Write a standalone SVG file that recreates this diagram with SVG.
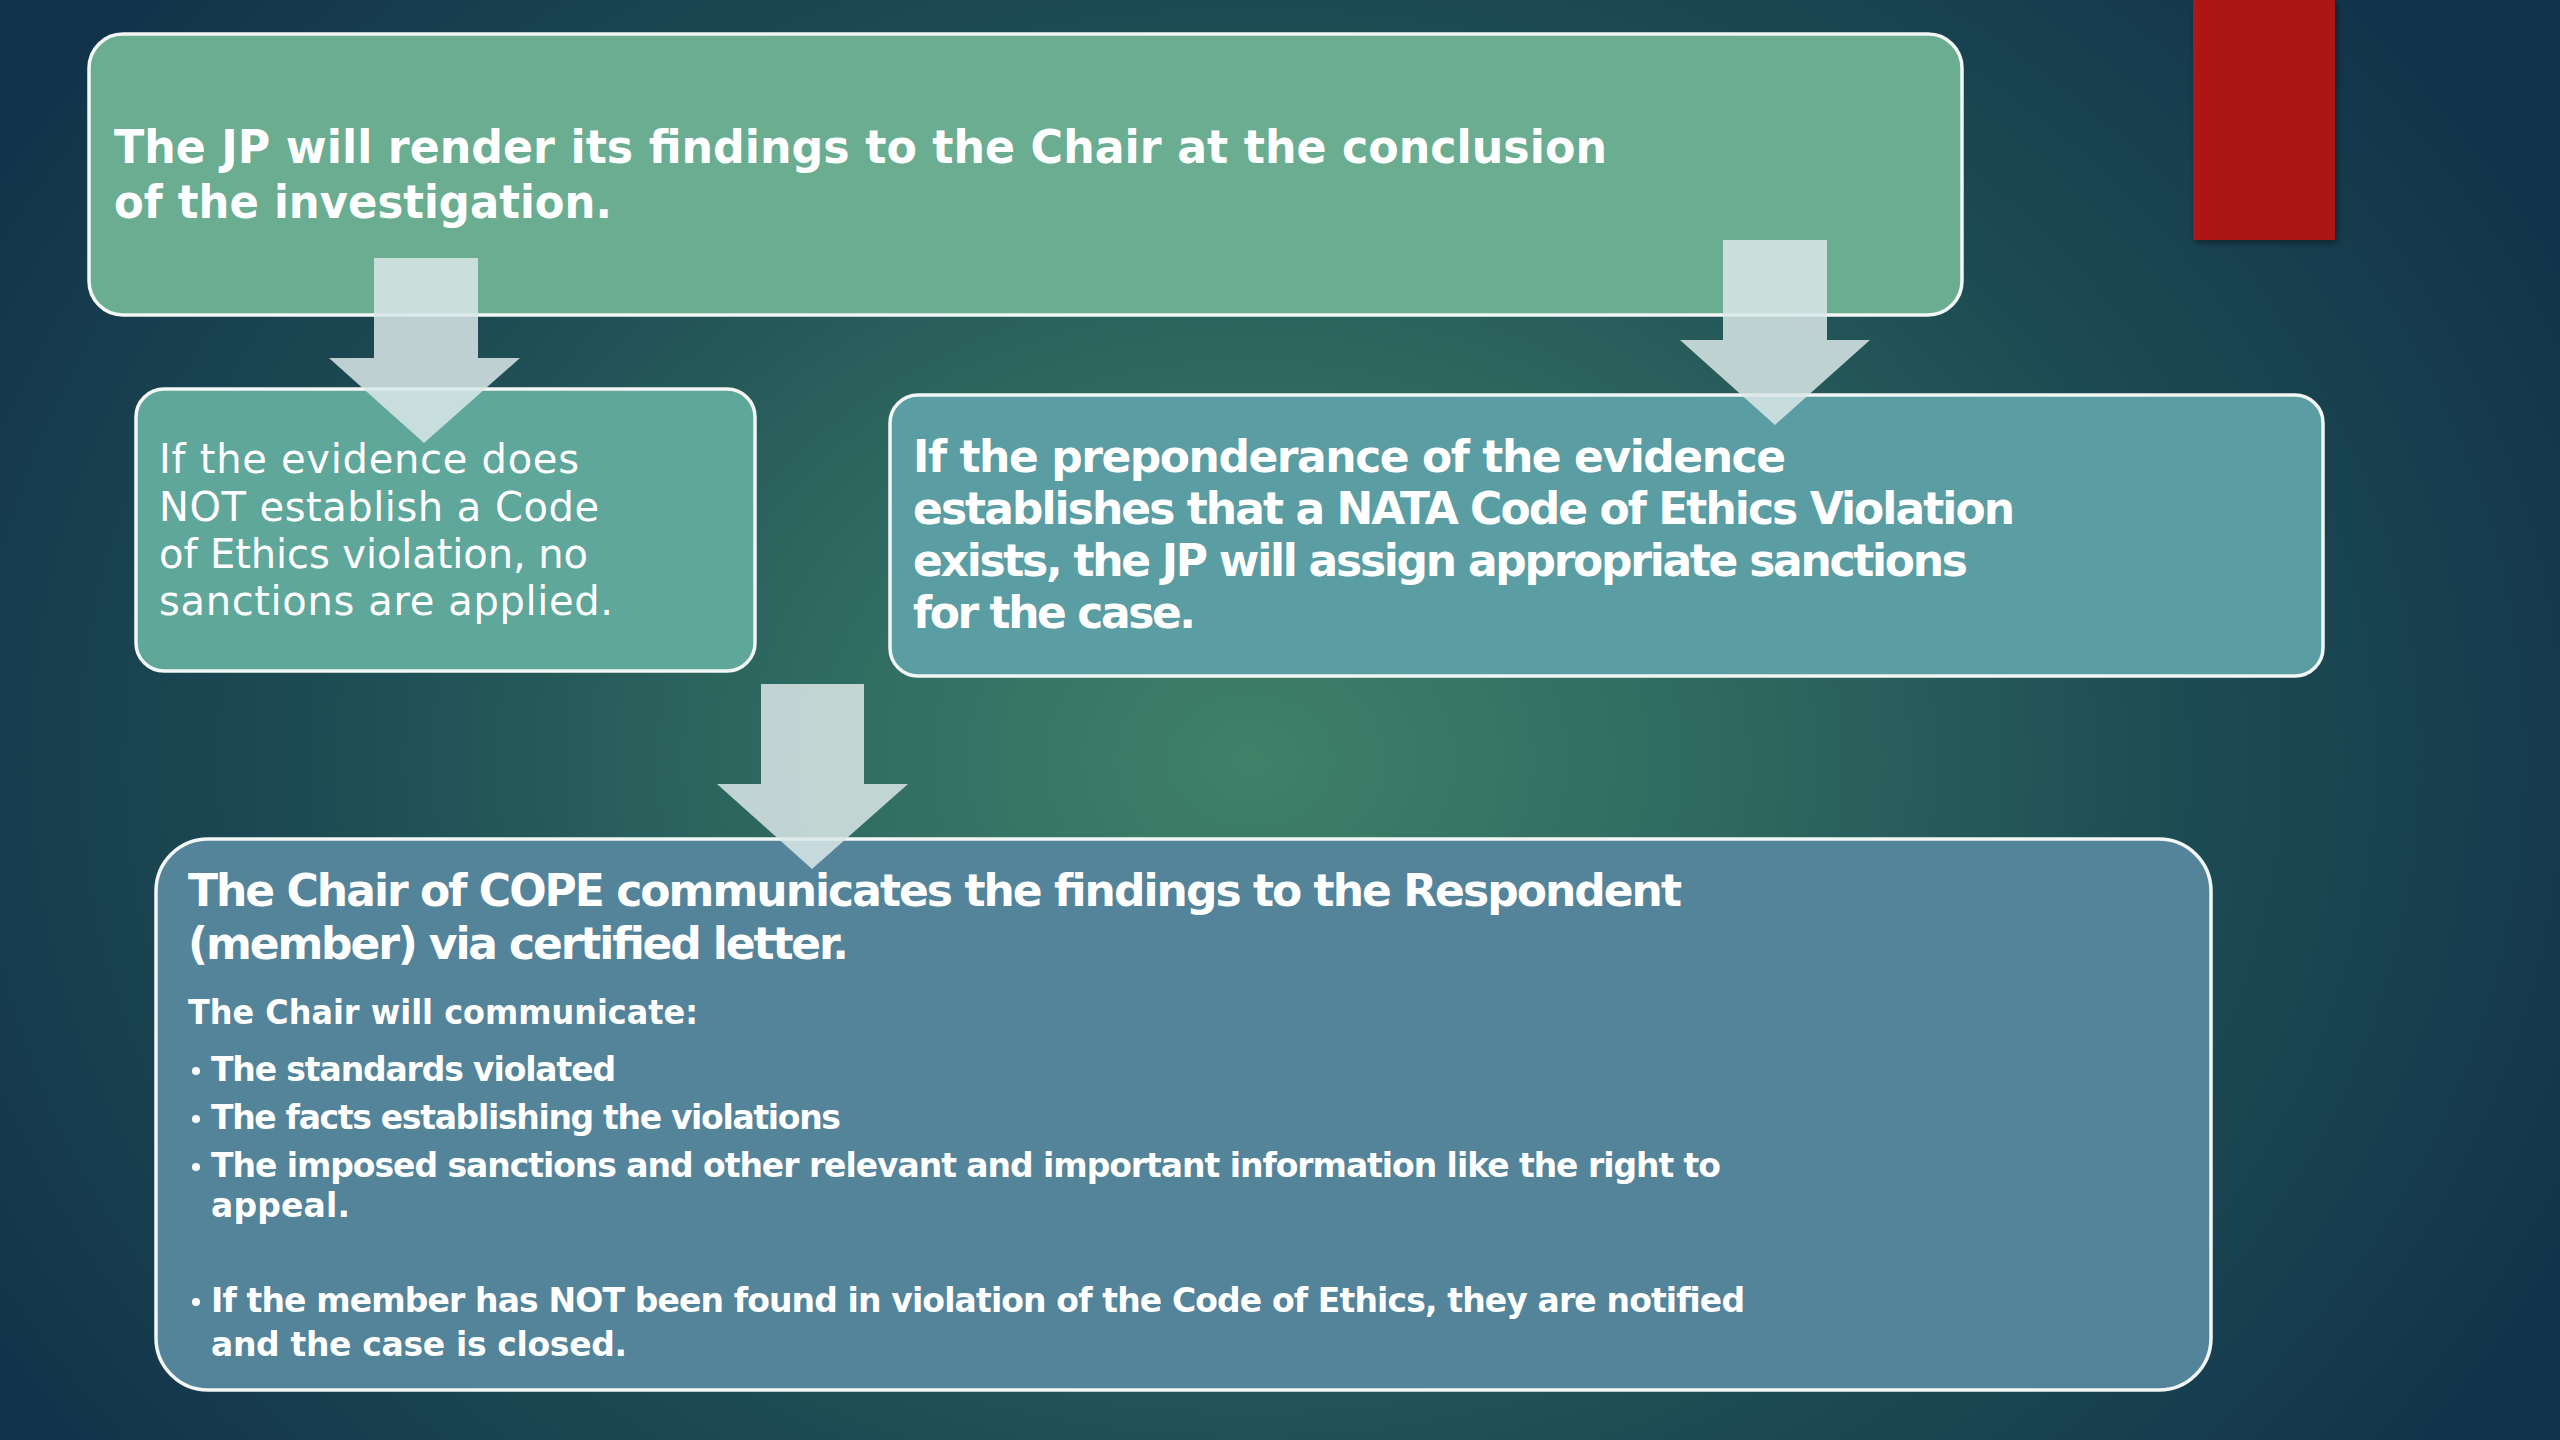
<svg xmlns="http://www.w3.org/2000/svg" width="2560" height="1440" viewBox="0 0 2560 1440">
  <defs>
    <radialGradient id="bg" gradientUnits="userSpaceOnUse" cx="1250" cy="760" r="1450" gradientTransform="translate(1250 760) scale(1 0.8) translate(-1250 -760)">
      <stop offset="0" stop-color="#3f8169"/>
      <stop offset="0.3" stop-color="#306b61"/>
      <stop offset="0.65" stop-color="#1d4b53"/>
      <stop offset="1" stop-color="#12344a"/>
    </radialGradient>
    <filter id="sh" x="-20%" y="-20%" width="140%" height="140%">
      <feDropShadow dx="2" dy="3" stdDeviation="3" flood-color="#000" flood-opacity="0.4"/>
    </filter>
  </defs>
  <style>
    .box { stroke: #f2f6f4; stroke-width: 3.5; }
    .t { fill: #ffffff; font-family: "DejaVu Sans", "Liberation Sans", sans-serif; }
    .b { font-weight: 700; }
    .r { font-weight: 400; }
    .arrow { fill: #dbe7e7; fill-opacity: 0.85; }
  </style>
  <rect x="0" y="0" width="2560" height="1440" fill="url(#bg)"/>
  <rect x="2193" y="0" width="142" height="240" fill="#ae1414" filter="url(#sh)"/>

  <g id="node-top">
    <rect class="box" x="89" y="34" width="1873" height="281" rx="34" fill="#6aad91"/>
    <text class="t b" font-size="47" x="114" y="163" textLength="1493" lengthAdjust="spacingAndGlyphs">The JP will render its findings to the Chair at the conclusion</text>
    <text class="t b" font-size="47" x="114" y="218" textLength="498" lengthAdjust="spacingAndGlyphs">of the investigation.</text>
  </g>

  <g id="node-left">
    <rect class="box" x="136" y="389" width="619" height="282" rx="28" fill="#5fa79a"/>
    <text class="t r" font-size="40" lengthAdjust="spacingAndGlyphs">
      <tspan x="159" y="473" textLength="420">If the evidence does</tspan>
      <tspan x="159" y="521" textLength="440">NOT establish a Code</tspan>
      <tspan x="159" y="568" textLength="429">of Ethics violation, no</tspan>
      <tspan x="159" y="615" textLength="454">sanctions are applied.</tspan>
    </text>
  </g>

  <g id="node-right">
    <rect class="box" x="890" y="395" width="1433" height="281" rx="28" fill="#5a9da2"/>
    <text class="t b" font-size="44" lengthAdjust="spacingAndGlyphs">
      <tspan x="913" y="472" textLength="873">If the preponderance of the evidence</tspan>
      <tspan x="913" y="524" textLength="1102">establishes that a NATA Code of Ethics Violation</tspan>
      <tspan x="913" y="576" textLength="1055">exists, the JP will assign appropriate sanctions</tspan>
      <tspan x="913" y="628" textLength="283">for the case.</tspan>
    </text>
  </g>

  <g id="node-bottom">
    <rect class="box" x="156" y="839" width="2055" height="551" rx="52" fill="#53849a"/>
    <text class="t b" font-size="44" lengthAdjust="spacingAndGlyphs">
      <tspan x="188" y="906" textLength="1494">The Chair of COPE communicates the findings to the Respondent</tspan>
      <tspan x="188" y="959" textLength="661">(member) via certified letter.</tspan>
    </text>
    <text class="t b" font-size="33" x="188" y="1024" textLength="510" lengthAdjust="spacingAndGlyphs">The Chair will communicate:</text>
    <g fill="#ffffff">
      <circle cx="196" cy="1071" r="4"/>
      <circle cx="196" cy="1119" r="4"/>
      <circle cx="196" cy="1167" r="4"/>
      <circle cx="196" cy="1302" r="4"/>
    </g>
    <text class="t b" font-size="33" lengthAdjust="spacingAndGlyphs">
      <tspan x="211" y="1081" textLength="405">The standards violated</tspan>
      <tspan x="211" y="1129" textLength="630">The facts establishing the violations</tspan>
      <tspan x="211" y="1177" textLength="1510">The imposed sanctions and other relevant and important information like the right to</tspan>
      <tspan x="211" y="1217" textLength="139">appeal.</tspan>
      <tspan x="211" y="1312" textLength="1534">If the member has NOT been found in violation of the Code of Ethics, they are notified</tspan>
      <tspan x="211" y="1356" textLength="416">and the case is closed.</tspan>
    </text>
  </g>

  <g id="connectors">
    <polygon class="arrow" points="374,258 478,258 478,358 520,358 424,443 329,358 374,358"/>
    <polygon class="arrow" points="1723,240 1827,240 1827,340 1870,340 1775,425 1680,340 1723,340"/>
    <polygon class="arrow" points="761,684 864,684 864,784 908,784 812,869 717,784 761,784"/>
  </g>
</svg>
